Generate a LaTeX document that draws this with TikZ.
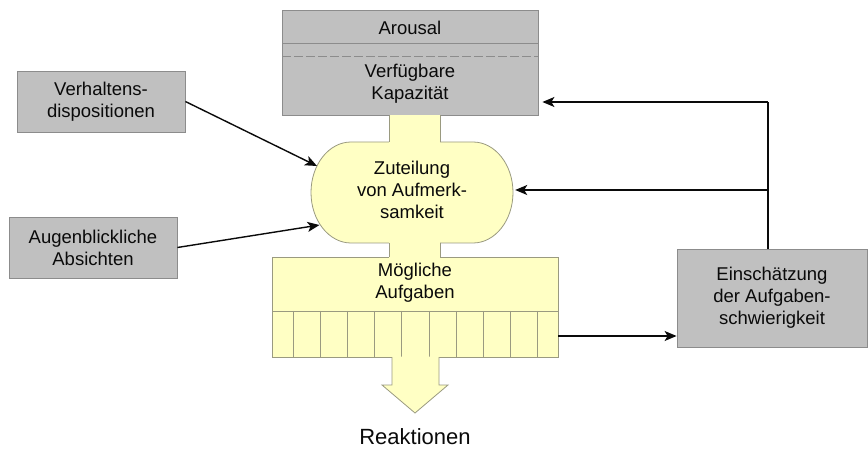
\documentclass[tikz,border=0pt]{standalone}
\usepackage{fontspec}
\setmainfont{Liberation Sans}
\usetikzlibrary{arrows.meta,calc}
\definecolor{boxgray}{HTML}{C0C0C0}
\definecolor{boxedge}{HTML}{8C8C8C}
\definecolor{pale}{HTML}{FFFFC4}
\definecolor{paleedge}{HTML}{9A9A80}
\definecolor{ink}{HTML}{0A0A0A}

\begin{document}
\begin{tikzpicture}[x=1pt,y=-1pt,
  lbl/.style={font=\fontsize{18.5}{22}\selectfont, text=ink, align=center, inner sep=0pt},
  graybox/.style={lbl, draw=boxedge, fill=boxgray, line width=0.8pt},
  yellowbox/.style={draw=paleedge, fill=pale, line width=0.8pt},
  edgeline/.style={draw=paleedge, line width=0.8pt},
  plain/.style={draw=ink, line width=1.4pt},
  conn/.style={plain, -{Stealth[length=12pt,width=10pt,inset=3pt]}}
]
\useasboundingbox (0,0) rectangle (868,449);

% capacity block with arousal on top
\node[graybox, minimum width=256pt, minimum height=105pt] (cap) at (410,62.5) {};
\draw[boxedge, line width=0.8pt] (282,43) -- (538,43);
\draw[boxedge, line width=0.8pt, dash pattern=on 9pt off 3pt] (282,56) -- (538,56);
\node[lbl] (arous) at (410,28) {Arousal};
\node[lbl] (verf) at (410,84) {Verfügbare\\Kapazität};

% side inputs
\node[graybox, minimum width=168pt, minimum height=61pt] (verh) at (101,101.5) {Verhaltens-\\dispositionen};
\node[graybox, minimum width=168pt, minimum height=61pt] (abs) at (93,247.5) {Augenblickliche\\Absichten};
\node[graybox, minimum width=190pt, minimum height=98pt] (eins) at (772,298) {Einschätzung\\der Aufgaben-\\schwierigkeit};

% allocation blob: flat top and bottom, half-elliptic ends
\path[yellowbox] (351,142) -- (473,142)
  arc[start angle=-90, end angle=90, x radius=40, y radius=50.5] -- (351,243)
  arc[start angle=90, end angle=270, x radius=40, y radius=50.5] -- cycle;
\node[lbl, minimum width=202pt, minimum height=101pt] (zut) at (412,190) {Zuteilung\\von Aufmerk-\\samkeit};

% upper stem
\fill[pale] (389.4,115.4) rectangle (439.6,144);
\draw[edgeline] (389,115) -- (389,142) (440,115) -- (440,142);

% task block
\node[yellowbox, minimum width=286pt, minimum height=100pt] (aufg) at (415,307) {};
\draw[edgeline] (272,311) -- (558,311);
\foreach \i in {0,...,9} \draw[edgeline] (293+27.2*\i,311) -- (293+27.2*\i,357);
\node[lbl] (mtext) at (415,283) {Mögliche\\Aufgaben};

% lower stem
\fill[pale] (389.4,240) rectangle (439.6,257.6);
\draw[edgeline] (389,243) -- (389,257) (440,243) -- (440,257);

% output arrow
\fill[pale] (392,356.6) -- (392,385) -- (382,385) -- (415,413) -- (448,385) -- (439,385) -- (439,356.6) -- cycle;
\draw[edgeline, line join=miter] (392,357) -- (392,385) -- (382,385) -- (415,413) -- (448,385) -- (439,385) -- (439,357);
\node[font=\fontsize{22}{26}\selectfont, text=ink, inner sep=0pt] (reak) at (415,437) {Reaktionen};

% connectors
\coordinate (inA) at (317,166);
\coordinate (inB) at (319.5,225);
\draw[conn] (verh.east) -- (inA);
\draw[conn] (abs.east) -- (inB);

\coordinate (topturn) at ([xshift=-4pt,yshift=-39.5pt]cap.east -| eins.north);
\coordinate (fork) at (768,190);
\draw[plain] ([xshift=-4pt]eins.north) -- (topturn);
\draw[conn] (topturn) -- ([xshift=4pt,yshift=-39.5pt]cap.east);
\draw[conn] (fork) -- ([xshift=2pt]zut.east);

\coordinate (outA) at ([yshift=-29pt]aufg.east);
\draw[conn] (outA) -- (outA -| eins.west);
\end{tikzpicture}
\end{document}
